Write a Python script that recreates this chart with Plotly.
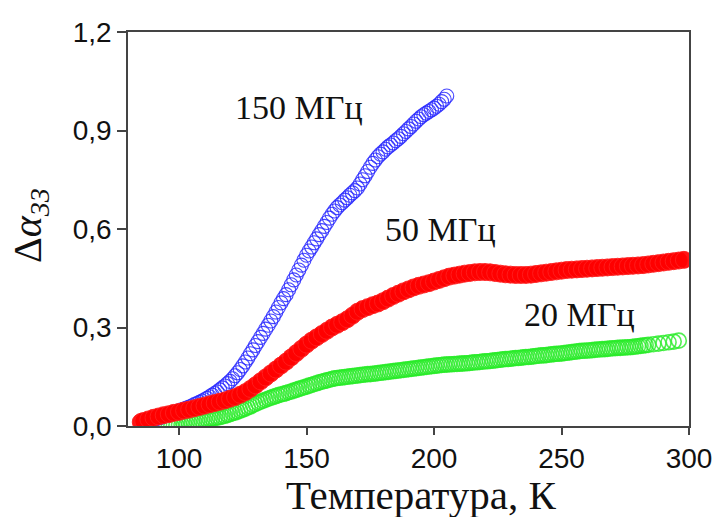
import plotly.graph_objects as go

# Temperature (K) and attenuation change for each frequency
t_150 = [88, 89, 90, 91, 92, 93, 94, 95, 96, 97, 98, 99, 100, 101, 102, 103, 104, 105, 106,
         107, 108, 109, 110, 111, 112, 113, 114, 115, 116, 117, 118, 119, 120, 121, 122,
         123, 124, 125, 126, 127, 128, 129, 130, 131, 132, 133, 134, 135, 136, 137, 138,
         139, 140, 141, 142, 143, 144, 145, 146, 147, 148, 149, 150, 151, 152, 153, 154,
         155, 156, 157, 158, 159, 160, 161, 162, 163, 164, 165, 166, 167, 168, 169, 170,
         171, 172, 173, 174, 175, 176, 177, 178, 179, 180, 181, 182, 183, 184, 185, 186,
         187, 188, 189, 190, 191, 192, 193, 194, 195, 196, 197, 198, 199, 200, 201, 202,
         203, 204, 205]
a_150 = [0.015, 0.017, 0.02, 0.022, 0.025, 0.027, 0.03, 0.032, 0.035, 0.037, 0.04, 0.043,
         0.046, 0.049, 0.052, 0.055, 0.058, 0.061, 0.065, 0.068, 0.072, 0.076, 0.08, 0.084,
         0.089, 0.094, 0.099, 0.104, 0.11, 0.116, 0.122, 0.129, 0.136, 0.144, 0.153, 0.162,
         0.172, 0.183, 0.195, 0.207, 0.22, 0.232, 0.245, 0.257, 0.27, 0.282, 0.295, 0.307,
         0.32, 0.333, 0.347, 0.361, 0.375, 0.388, 0.40, 0.415, 0.43, 0.445, 0.46, 0.475,
         0.49, 0.505, 0.52, 0.533, 0.545, 0.558, 0.57, 0.583, 0.595, 0.608, 0.62, 0.633,
         0.645, 0.655, 0.665, 0.673, 0.68, 0.688, 0.695, 0.703, 0.71, 0.717, 0.725, 0.737,
         0.75, 0.762, 0.775, 0.788, 0.80, 0.81, 0.82, 0.828, 0.835, 0.843, 0.85, 0.856,
         0.862, 0.869, 0.875, 0.882, 0.89, 0.897, 0.905, 0.912, 0.92, 0.928, 0.935, 0.942,
         0.948, 0.953, 0.958, 0.963, 0.968, 0.974, 0.98, 0.988, 0.995, 1.005]

t_50 = [85, 86, 88, 90, 92, 94, 96, 98, 100, 102, 104, 106, 108, 110, 112, 114, 116, 118,
        120, 122, 124, 126, 128, 130, 132, 134, 136, 138, 140, 142, 144, 146, 148, 150,
        152, 154, 156, 158, 160, 162, 164, 166, 168, 170, 172, 174, 176, 178, 180, 182,
        184, 186, 188, 190, 192, 194, 196, 198, 200, 202, 204, 206, 208, 210, 212, 214,
        216, 218, 220, 222, 224, 226, 228, 230, 232, 234, 236, 238, 240, 242, 244, 246,
        248, 250, 252, 254, 256, 258, 260, 262, 264, 266, 268, 270, 272, 274, 276, 278,
        280, 282, 284, 286, 288, 290, 292, 294, 296, 298]
a_50 = [0.012, 0.015, 0.02, 0.025, 0.029, 0.033, 0.036, 0.04, 0.043, 0.047, 0.05, 0.054,
        0.058, 0.062, 0.066, 0.07, 0.074, 0.078, 0.083, 0.088, 0.095, 0.103, 0.113, 0.124,
        0.136, 0.148, 0.16, 0.172, 0.184, 0.196, 0.209, 0.222, 0.235, 0.248, 0.26, 0.27,
        0.28, 0.29, 0.30, 0.308, 0.316, 0.325, 0.336, 0.348, 0.356, 0.362, 0.368, 0.373,
        0.38, 0.388, 0.396, 0.403, 0.41, 0.416, 0.422, 0.427, 0.431, 0.435, 0.44, 0.445,
        0.45, 0.455, 0.458, 0.461, 0.464, 0.466, 0.468, 0.469, 0.469, 0.468, 0.466, 0.464,
        0.462, 0.461, 0.46, 0.46, 0.46, 0.461, 0.463, 0.465, 0.467, 0.469, 0.471, 0.473,
        0.475, 0.476, 0.477, 0.478, 0.479, 0.48, 0.481, 0.482, 0.483, 0.484, 0.485, 0.486,
        0.487, 0.488, 0.489, 0.49, 0.492, 0.494, 0.496, 0.498, 0.50, 0.502, 0.504, 0.506]

t_20 = [96, 97, 98, 99, 100, 101, 102, 103, 104, 105, 106, 107, 108, 109, 110, 111, 112,
        113, 114, 115, 116, 117, 118, 119, 120, 121, 122, 123, 124, 125, 126, 127, 128,
        129, 130, 131, 132, 133, 134, 135, 136, 137, 138, 139, 140, 141, 142, 143, 144,
        145, 146, 147, 148, 149, 150, 151, 152, 153, 154, 155, 156, 157, 158, 159, 160,
        161, 162, 163, 164, 165, 166, 167, 168, 169, 170, 171, 172, 173, 174, 175, 176,
        177, 178, 179, 180, 181, 182, 183, 184, 185, 186, 187, 188, 189, 190, 191, 192,
        193, 194, 195, 196, 197, 198, 199, 200, 201, 202, 203, 204, 205, 206, 207, 208,
        209, 210, 211, 212, 213, 214, 215, 216, 217, 218, 219, 220, 221, 222, 223, 224,
        225, 226, 227, 228, 229, 230, 231, 232, 233, 234, 235, 236, 237, 238, 239, 240,
        241, 242, 243, 244, 245, 246, 247, 248, 249, 250, 251, 252, 253, 254, 255, 256,
        257, 258, 259, 260, 261, 262, 263, 264, 265, 266, 267, 268, 269, 270, 271, 272,
        273, 274, 275, 276, 277, 278, 279, 280, 281, 282, 283, 284, 286, 288, 290, 292,
        294, 296]
a_20 = [0.0, 0.001, 0.002, 0.003, 0.004, 0.005, 0.006, 0.008, 0.009, 0.011, 0.012, 0.014,
        0.015, 0.017, 0.018, 0.02, 0.021, 0.023, 0.024, 0.026, 0.027, 0.029, 0.031, 0.034,
        0.036, 0.039, 0.041, 0.044, 0.047, 0.05, 0.053, 0.057, 0.06, 0.064, 0.067, 0.071,
        0.074, 0.077, 0.08, 0.083, 0.086, 0.089, 0.091, 0.094, 0.096, 0.098, 0.10, 0.103,
        0.105, 0.108, 0.11, 0.113, 0.115, 0.118, 0.12, 0.123, 0.125, 0.128, 0.13, 0.133,
        0.135, 0.137, 0.139, 0.141, 0.143, 0.145, 0.146, 0.147, 0.148, 0.149, 0.15, 0.151,
        0.152, 0.153, 0.154, 0.155, 0.156, 0.157, 0.158, 0.158, 0.159, 0.16, 0.161, 0.162,
        0.163, 0.164, 0.165, 0.166, 0.167, 0.168, 0.169, 0.17, 0.171, 0.172, 0.173, 0.174,
        0.175, 0.176, 0.177, 0.178, 0.179, 0.18, 0.181, 0.182, 0.183, 0.184, 0.185, 0.186,
        0.187, 0.187, 0.188, 0.188, 0.189, 0.189, 0.19, 0.19, 0.191, 0.191, 0.192, 0.193,
        0.194, 0.194, 0.195, 0.196, 0.197, 0.197, 0.198, 0.199, 0.20, 0.201, 0.202, 0.203,
        0.204, 0.204, 0.205, 0.206, 0.207, 0.207, 0.208, 0.209, 0.21, 0.21, 0.211, 0.212,
        0.213, 0.214, 0.215, 0.215, 0.216, 0.217, 0.218, 0.219, 0.22, 0.22, 0.221, 0.222,
        0.223, 0.224, 0.225, 0.226, 0.227, 0.228, 0.229, 0.229, 0.23, 0.23, 0.231, 0.232,
        0.233, 0.233, 0.234, 0.234, 0.235, 0.236, 0.237, 0.237, 0.238, 0.238, 0.239, 0.239,
        0.24, 0.24, 0.241, 0.242, 0.243, 0.244, 0.245, 0.246, 0.247, 0.249, 0.251, 0.253,
        0.255, 0.257, 0.26]

x_ticks = [100, 150, 200, 250, 300]
y_ticks = [0.0, 0.3, 0.6, 0.9, 1.2]
y_tick_text = ["0,0", "0,3", "0,6", "0,9", "1,2"]

series_labels = ["150 МГц", "50 МГц", "20 МГц"]
label_pos = [(147, 0.97), (202.7, 0.597), (257.2, 0.341)]

fig = go.Figure()

fig.add_trace(go.Scatter(
    x=t_20, y=a_20, mode="markers",
    marker=dict(symbol="circle-open", size=15, color="rgba(40,235,40,0.8)",
                line=dict(width=1.6, color="rgba(40,235,40,0.8)")),
    showlegend=False))

fig.add_trace(go.Scatter(
    x=t_150, y=a_150, mode="markers",
    marker=dict(symbol="circle-open", size=14, color="rgba(40,40,255,0.85)",
                line=dict(width=1.1, color="rgba(40,40,255,0.85)")),
    showlegend=False))

fig.add_trace(go.Scatter(
    x=t_50, y=a_50, mode="markers",
    marker=dict(symbol="circle", size=17, color="rgba(255,0,0,0.92)",
                line=dict(width=1, color="rgba(255,30,30,0.9)")),
    showlegend=False))

for text, (lx, ly) in zip(series_labels, label_pos):
    fig.add_annotation(x=lx, y=ly, text=text, showarrow=False,
                       xanchor="center", yanchor="middle",
                       font=dict(family="Liberation Serif", size=34, color="#111"))

axis_common = dict(
    showgrid=False, zeroline=False, showline=True, linecolor="#444", linewidth=1.6,
    mirror=True, ticks="outside", tickcolor="#444", tickwidth=1.5, automargin=False,
    tickfont=dict(family="Liberation Sans", size=28, color="#111"),
)

fig.update_xaxes(range=[80, 300], tickvals=x_ticks, ticklen=7, **axis_common)
fig.update_yaxes(range=[0, 1.2], tickvals=y_ticks, ticktext=y_tick_text, ticklen=9,
                 **axis_common)

# Axis titles
fig.add_annotation(xref="paper", yref="paper", x=0.522, y=-0.175,
                   text="Температура, К", showarrow=False,
                   xanchor="center", yanchor="middle",
                   font=dict(family="Liberation Serif", size=41, color="#111"))
fig.add_annotation(xref="paper", yref="paper", x=-0.175, y=0.51,
                   text="Δ<i>α</i><sub><i>33</i></sub>", showarrow=False, textangle=-90,
                   xanchor="center", yanchor="middle",
                   font=dict(family="Liberation Serif", size=40, color="#111"))

fig.update_layout(
    width=713, height=517,
    margin=dict(l=128, r=24, t=32, b=91),
    paper_bgcolor="white", plot_bgcolor="white",
)

fig.write_html("out.html")
